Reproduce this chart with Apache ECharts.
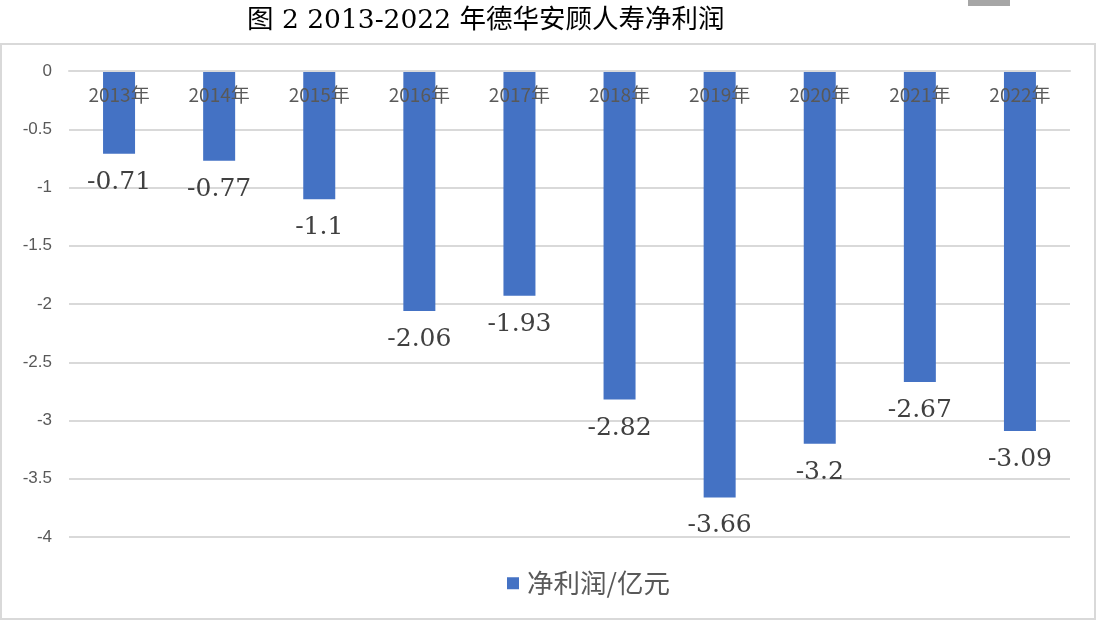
<!DOCTYPE html>
<html>
<head>
<meta charset="utf-8">
<script src="https://cdn.jsdelivr.net/npm/echarts@6/dist/echarts.min.js"></script>
<style>
html,body{margin:0;padding:0;background:#fff;}
#chart{width:1098px;height:622px;}
</style>
</head>
<body>
<div id="chart"></div>
<script>
const titleText = '图 2 2013-2022 年德华安顾人寿净利润';
const seriesName = '净利润/亿元';
const categories = ['2013年','2014年','2015年','2016年','2017年','2018年','2019年','2020年','2021年','2022年'];
const netProfit = [-0.71, -0.77, -1.1, -2.06, -1.93, -2.82, -3.66, -3.2, -2.67, -3.09];
const yMin = -4, yMax = 0, yInterval = 0.5;

const chart = echarts.init(document.getElementById('chart'), null, {renderer: 'canvas'});
chart.setOption({
  animation: false,
  backgroundColor: '#ffffff',
  title: {
    text: titleText,
    left: 247,
    top: 8,
    padding: 0,
    textStyle: {
      fontFamily: '"DejaVu Serif", "Noto Sans CJK SC", serif',
      fontSize: 26.5,
      fontWeight: 'normal',
      color: '#000000'
    }
  },
  graphic: [
    {type: 'rect', shape: {x: 1, y: 44, width: 1094, height: 575}, style: {fill: 'none', stroke: '#d9d9d9', lineWidth: 2}, silent: true, z: -1},
    {type: 'rect', shape: {x: 968, y: 0, width: 42, height: 6}, style: {fill: '#a6a6a6'}, silent: true}
  ],
  legend: {
    data: [seriesName],
    left: 502,
    top: 565,
    icon: 'rect',
    itemWidth: 12,
    itemHeight: 12,
    textStyle: {
      fontFamily: '"Noto Sans CJK SC", sans-serif',
      fontSize: 26.5,
      color: '#595959',
      padding: [0, 0, 0, 3]
    }
  },
  grid: {left: 69, right: 28, top: 71, bottom: 85, containLabel: false},
  xAxis: {
    type: 'category',
    position: 'top',
    z: 10,
    data: categories,
    axisLine: {show: true, lineStyle: {color: '#d9d9d9', width: 2}},
    axisTick: {show: false},
    axisLabel: {
      inside: true,
      margin: 14,
      fontFamily: '"Noto Sans CJK SC", sans-serif',
      fontSize: 19,
      color: '#595959'
    }
  },
  yAxis: {
    type: 'value',
    min: yMin,
    max: yMax,
    interval: yInterval,
    axisLine: {show: false},
    axisTick: {show: false},
    splitLine: {lineStyle: {color: '#d9d9d9', width: 2}},
    axisLabel: {
      margin: 17,
      fontFamily: '"Liberation Sans", Arial, sans-serif',
      fontSize: 17,
      color: '#595959'
    }
  },
  series: [{
    name: seriesName,
    type: 'bar',
    data: netProfit,
    barWidth: 32,
    itemStyle: {color: '#4472c4'},
    label: {
      show: true,
      position: 'bottom',
      distance: 16,
      fontFamily: '"DejaVu Serif", serif',
      fontSize: 25,
      color: '#404040'
    }
  }]
});
</script>
</body>
</html>
